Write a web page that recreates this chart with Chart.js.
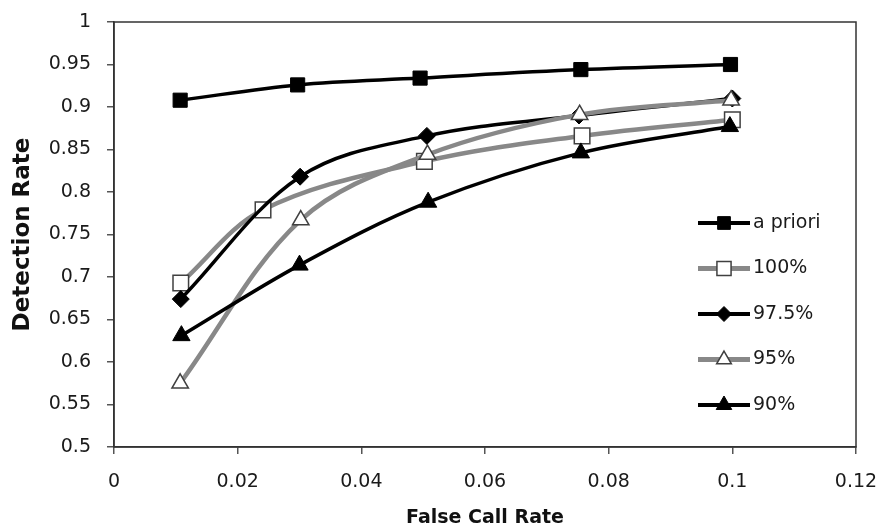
<!DOCTYPE html>
<html>
<head>
<meta charset="utf-8">
<script src="https://cdn.jsdelivr.net/npm/chart.js@4"></script>
<style>
  html, body { margin: 0; padding: 0; background: #fff; }
  #wrap { width: 881px; height: 529px; }
</style>
</head>
<body>
<div id="wrap"><canvas id="rocChart" width="881" height="529"></canvas></div>
<script>
// series names (legend order)
const seriesNames = ['a priori', '100%', '97.5%', '95%', '90%'];

// false call rate (x) per series
const xPriori = [0.0107, 0.0297, 0.0495, 0.0755, 0.0997];
const x100    = [0.0108, 0.0241, 0.0502, 0.0757, 0.1000];
const x975    = [0.0108, 0.0301, 0.0506, 0.0752, 0.1000];
const x95     = [0.0107, 0.0302, 0.0507, 0.0753, 0.0998];
const x90     = [0.0109, 0.0300, 0.0508, 0.0755, 0.0996];

// detection rate (y) per series
const yPriori = [0.908, 0.926, 0.934, 0.944, 0.950];
const y100    = [0.693, 0.779, 0.836, 0.866, 0.885];
const y975    = [0.674, 0.818, 0.866, 0.890, 0.910];
const y95     = [0.575, 0.767, 0.844, 0.891, 0.908];
const y90     = [0.631, 0.714, 0.788, 0.846, 0.877];

// tick labels
const xTickLabels = ['0', '0.02', '0.04', '0.06', '0.08', '0.1', '0.12'];
const yTickLabels = ['0.5', '0.55', '0.6', '0.65', '0.7', '0.75', '0.8', '0.85', '0.9', '0.95', '1'];

const pts = (xs, ys) => xs.map((x, i) => ({ x: x, y: ys[i] }));

const BLACK = '#000000', GREY = '#888888';

// frame round the plot area + legend inside it, like the Excel original
const frameAndLegend = {
  id: 'frameAndLegend',
  afterDraw(chart) {
    const { ctx, chartArea: a } = chart;
    ctx.save();
    ctx.strokeStyle = '#333';
    ctx.lineWidth = 1.5;
    ctx.strokeRect(a.left, a.top, a.right - a.left, a.bottom - a.top);

    const x0 = a.right - 158, x1 = a.right - 106, mx = (x0 + x1) / 2;
    chart.data.datasets.forEach((ds, i) => {
      const y = a.top + 201 + i * 45.5;
      ctx.strokeStyle = ds.borderColor;
      ctx.lineWidth = ds.borderWidth + 0.5;
      ctx.beginPath();
      ctx.moveTo(x0, y);
      ctx.lineTo(x1, y);
      ctx.stroke();

      ctx.fillStyle = ds.pointBackgroundColor;
      ctx.strokeStyle = ds.pointBorderColor;
      ctx.lineWidth = ds.pointBorderWidth;
      Chart.helpers.drawPoint(ctx, {
        pointStyle: ds.pointStyle,
        radius: ds.pointRadius - 1,
        borderWidth: ds.pointBorderWidth,
        rotation: 0
      }, mx, y);

      ctx.fillStyle = '#1a1a1a';
      ctx.font = '19px "DejaVu Sans"';
      ctx.textBaseline = 'middle';
      ctx.textAlign = 'left';
      ctx.fillText(seriesNames[i], x1 + 3, y);
    });
    ctx.restore();
  }
};

Chart.defaults.font.family = '"DejaVu Sans", sans-serif';
Chart.defaults.font.size = 19;
Chart.defaults.color = '#1a1a1a';

const ctx = document.getElementById('rocChart').getContext('2d');
const rocChart = new Chart(ctx, {
  type: 'line',
  data: {
    datasets: [{
      label: seriesNames[0],
      data: pts(xPriori, yPriori),
      borderColor: BLACK, borderWidth: 3.5,
      pointStyle: 'rect', pointRadius: 10,
      pointBackgroundColor: BLACK, pointBorderColor: BLACK, pointBorderWidth: 1,
      order: 4
    }, {
      label: seriesNames[1],
      data: pts(x100, y100),
      borderColor: GREY, borderWidth: 4.5,
      pointStyle: 'rect', pointRadius: 11,
      pointBackgroundColor: '#ffffff', pointBorderColor: '#404040', pointBorderWidth: 1.5,
      order: 3
    }, {
      label: seriesNames[2],
      data: pts(x975, y975),
      borderColor: BLACK, borderWidth: 3.5,
      pointStyle: 'rectRot', pointRadius: 8.5,
      pointBackgroundColor: BLACK, pointBorderColor: BLACK, pointBorderWidth: 1,
      order: 2
    }, {
      label: seriesNames[3],
      data: pts(x95, y95),
      borderColor: GREY, borderWidth: 4.5,
      pointStyle: 'triangle', pointRadius: 9.5,
      pointBackgroundColor: '#ffffff', pointBorderColor: '#404040', pointBorderWidth: 1.5,
      order: 1
    }, {
      label: seriesNames[4],
      data: pts(x90, y90),
      borderColor: BLACK, borderWidth: 3.5,
      pointStyle: 'triangle', pointRadius: 10,
      pointBackgroundColor: BLACK, pointBorderColor: BLACK, pointBorderWidth: 1,
      order: 0
    }]
  },
  options: {
    responsive: false,
    animation: false,
    devicePixelRatio: 1,
    layout: { padding: { top: 22, right: 25, left: 0, bottom: 0 } },
    plugins: {
      legend: { display: false },
      tooltip: { enabled: false }
    },
    elements: { line: { tension: 0.35 } },
    scales: {
      x: {
        type: 'linear',
        min: 0, max: 0.12,
        ticks: {
          stepSize: 0.02,
          padding: 17,
          maxRotation: 0,
          callback: (v, i) => xTickLabels[i]
        },
        grid: { drawOnChartArea: false, drawTicks: true, tickLength: 7, color: '#555', lineWidth: 1.5 },
        border: { color: '#333', width: 1.5 },
        title: {
          display: true,
          text: 'False Call Rate',
          font: { size: 19, weight: 'bold' },
          color: '#111',
          padding: { top: 0, bottom: 0 }
        },
        afterFit: (s) => { s.height = 82; s.paddingLeft = 0; s.paddingRight = 0; }
      },
      y: {
        min: 0.5, max: 1,
        ticks: {
          stepSize: 0.05,
          padding: 16,
          callback: (v, i) => yTickLabels[i]
        },
        grid: { drawOnChartArea: false, drawTicks: true, tickLength: 7, color: '#555', lineWidth: 1.5 },
        border: { color: '#333', width: 1.5 },
        title: {
          display: true,
          text: 'Detection Rate',
          font: { size: 23, weight: 'bold' },
          color: '#111',
          padding: { top: 9, bottom: 0 }
        },
        afterFit: (s) => { s.width = 114; s.paddingTop = 0; s.paddingBottom = 0; }
      }
    }
  },
  plugins: [frameAndLegend]
});
</script>
</body>
</html>
